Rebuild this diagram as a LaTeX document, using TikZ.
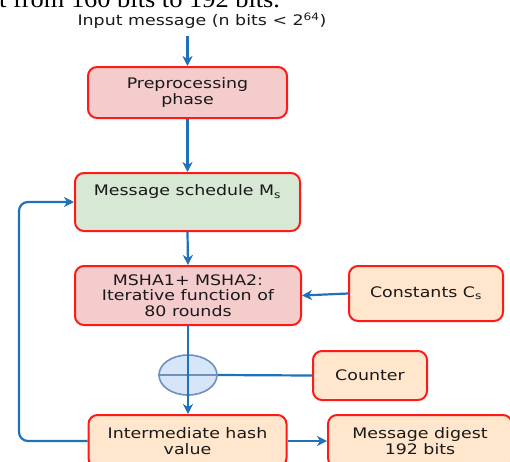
\documentclass[tikz,border=0pt]{standalone}
\usepackage{fontspec}
\setmainfont[FakeStretch=1.2]{DejaVu Sans}
\newfontfamily\serifx[FakeStretch=1.1]{Liberation Serif}
\usetikzlibrary{arrows.meta,shapes.geometric}
\definecolor{arrowblue}{HTML}{1F72B8}
\definecolor{boxred}{HTML}{FF1A1A}
\definecolor{fillpink}{HTML}{F5CCCC}
\definecolor{fillgreen}{HTML}{D7E8D5}
\definecolor{fillorange}{HTML}{FFE6CC}
\definecolor{circfill}{HTML}{D6E5F8}
\definecolor{circdraw}{HTML}{6F8FBF}
\tikzset{
  box/.style={draw=boxred, line width=2pt, rounded corners=9pt, align=center,
    font=\fontsize{14.5}{15.5}\selectfont, text=black!90, inner sep=2pt},
  pinkbox/.style={box, fill=fillpink},
  greenbox/.style={box, fill=fillgreen},
  orangebox/.style={box, fill=fillorange},
  conn/.style={draw=arrowblue, line width=2.2pt},
  arr/.style={conn, -{Stealth[length=10pt,width=10pt,inset=3pt]}},
}
\begin{document}
\begin{tikzpicture}[x=1pt,y=-1pt]
\useasboundingbox (0,0) rectangle (510,461);
\node[anchor=base west, inner sep=0pt, font=\serifx\fontsize{24}{26}\selectfont] (cut) at (-1,7.3) {t from 160 bits to 192 bits.};
\node[font=\fontsize{14.5}{16}\selectfont, text=black!90, inner sep=0pt] (inp) at (202,20.5) {Input message (n bits < 2\textsuperscript{64})};
\coordinate (inp0) at (187.5,36);
\node[pinkbox, minimum width=199pt, minimum height=51pt] (pre) at (187.5,92.5) {Preprocessing\\phase};
\node[greenbox, minimum width=225pt, minimum height=58pt] (ms) at (187.5,202) {Message schedule M\textsubscript{s}\\[3pt]\strut};
\node[pinkbox, minimum width=226pt, minimum height=59pt] (msha) at (188,295.5) {MSHA1+ MSHA2:\\Iterative function of\\80 rounds};
\node[orangebox, minimum width=154pt, minimum height=55pt] (cst) at (426,293.5) {Constants C\textsubscript{s}};
\node[ellipse, draw=circdraw, fill=circfill, line width=1.6pt, minimum width=58pt, minimum height=40pt, inner sep=0pt] (xor) at (188,375) {};
\node[orangebox, minimum width=114pt, minimum height=49pt] (cnt) at (370,375.5) {Counter};
\node[orangebox, minimum width=198pt, minimum height=52pt] (ih) at (187.5,441) {Intermediate hash\\value};
\node[orangebox, minimum width=184pt, minimum height=52pt] (md) at (420,441) {Message digest\\192 bits};
\draw[conn, draw=circdraw, line width=1.6pt] (xor.west) -- (xor.east);
\draw[conn] (xor.east) -- (cnt.west);
\draw[arr] (inp0) -- (pre.north);
\draw[arr] (pre.south) -- (ms.north);
\draw[arr] (ms.south) -- (msha.north);
\draw[arr] (cst.west) -- (msha.east);
\draw[arr] (msha.south -| xor.center) -- (ih.north -| xor.center);
\draw[arr] (ih.east) -- (md.west);
\draw[arr, rounded corners=9pt] (ih.west) -- (19,441) -- (19,202) -- (ms.west);
\end{tikzpicture}
\end{document}
